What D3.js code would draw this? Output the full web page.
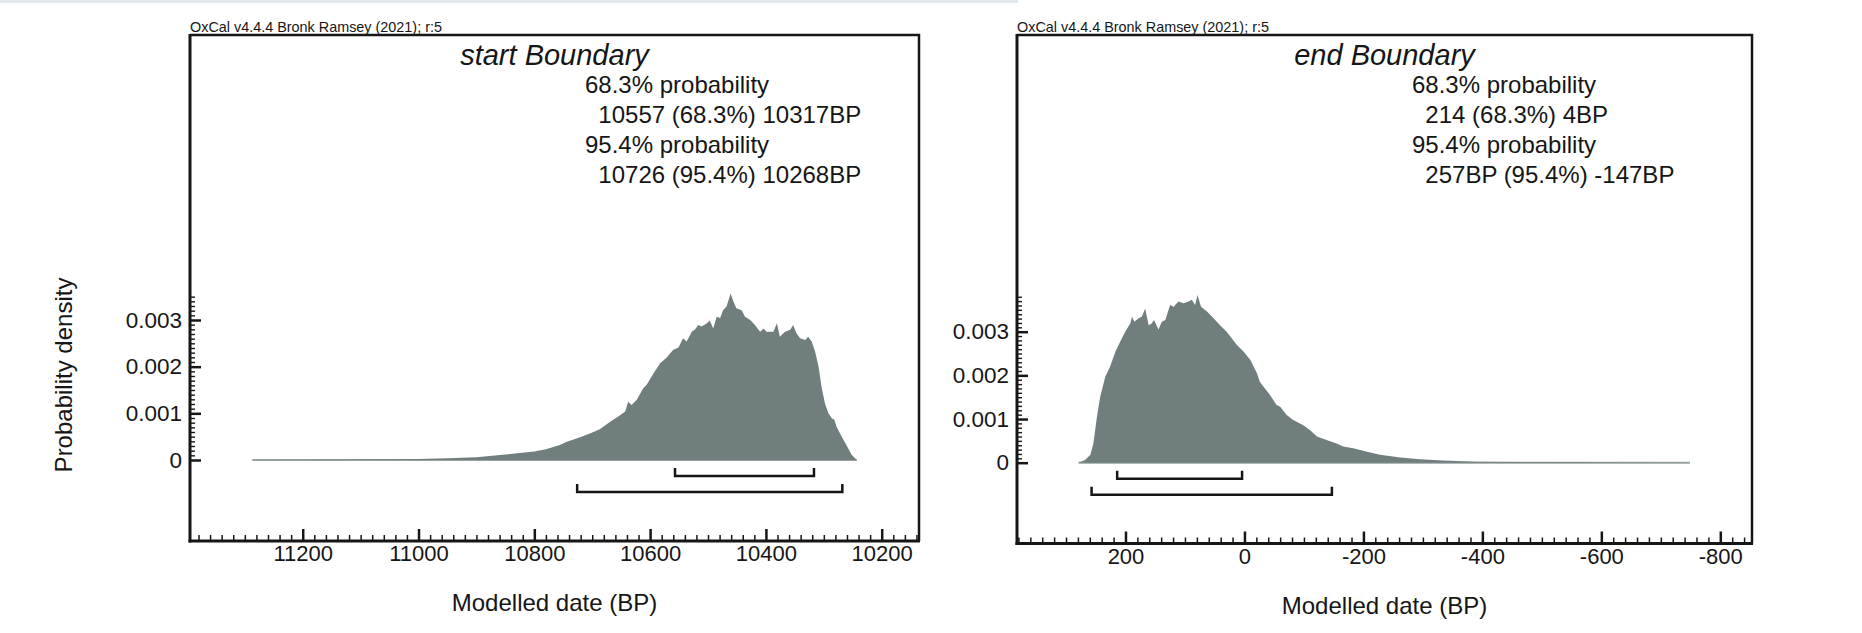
<!DOCTYPE html>
<html><head><meta charset="utf-8">
<script src="https://cdn.jsdelivr.net/npm/d3@7"></script>
<style>
body{margin:0;background:#fff}
svg{display:block}
text{font-family:"Liberation Sans",Arial,Helvetica,sans-serif;fill:#161616}
</style>
</head><body>
<svg id="c" width="1862" height="633"></svg>
<script>
// ---------------- data ----------------
const credit = "OxCal v4.4.4 Bronk Ramsey (2021); r:5";
const titles = ["start Boundary", "end Boundary"];
const startTexts = ["68.3% probability", "  10557 (68.3%) 10317BP", "95.4% probability", "  10726 (95.4%) 10268BP"];
const endTexts = ["68.3% probability", "  214 (68.3%) 4BP", "95.4% probability", "  257BP (95.4%) -147BP"];
const yTickValues = [0, 0.001, 0.002, 0.003];
const yTickLabels = ["0", "0.001", "0.002", "0.003"];
const startXTicks = [11200, 11000, 10800, 10600, 10400, 10200];
const endXTicks = [200, 0, -200, -400, -600, -800];
const startRange68 = [10557, 10317];
const startRange95 = [10726, 10268];
const endRange68 = [214, 4];
const endRange95 = [257, -147];
const yTitle = "Probability density";
const xTitle = "Modelled date (BP)";

const startYears = [11287,11200,11100,11000,10950,10900,10850,10800,10780,10756,10744,10727,10704,10687,10669,10652,10643,10638,10632,10623,10612,10606,10594,10583,10571,10560,10551,10543,10537,10528,10522,10517,10511,10502,10497,10491,10485,10479,10474,10468,10461,10456,10451,10442,10436,10427,10419,10410,10404,10399,10387,10381,10376,10367,10358,10353,10347,10341,10332,10327,10321,10315,10309,10304,10298,10292,10286,10282,10278,10269,10261,10252,10243];
const startDensity = [0,0.000005,0.00001,0.00002,0.00004,0.00006,0.00012,0.00018,0.00023,0.00032,0.00039,0.00046,0.00057,0.00066,0.00082,0.00096,0.00104,0.00125,0.00118,0.00129,0.00154,0.00161,0.00186,0.00207,0.0022,0.00236,0.00241,0.00261,0.00254,0.00275,0.0028,0.00289,0.00286,0.00293,0.00299,0.00282,0.00307,0.00304,0.00321,0.00329,0.00357,0.00339,0.00325,0.00321,0.00307,0.003,0.00289,0.00275,0.00282,0.00275,0.00275,0.00293,0.00264,0.00275,0.00279,0.00289,0.00271,0.00261,0.00257,0.00264,0.00254,0.00232,0.002,0.00157,0.00121,0.001,0.00089,0.00087,0.00071,0.0005,0.00032,0.00011,0];

const endYears = [279,268,259,254,248,242.5,234,226,217,209,200.5,192,189,185,178,172.5,167,161,156,152,144.5,139,133,125,119,111,102.5,94,88.5,83,79,73,63,52,41,30,13,2,-10,-21,-26,-43,-54,-60,-71,-82,-99,-110,-122,-138,-155,-166,-183,-206,-228,-262,-295,-334,-390,-475,-587,-749];
const endDensity = [0,0.00006,0.00018,0.00044,0.00105,0.00151,0.00197,0.0022,0.00254,0.00277,0.003,0.00319,0.00334,0.00323,0.00331,0.00334,0.00353,0.00315,0.00319,0.00327,0.00305,0.00323,0.00327,0.00361,0.00357,0.00369,0.00365,0.00369,0.00373,0.00361,0.00384,0.00357,0.00346,0.00331,0.00315,0.003,0.0027,0.00255,0.00235,0.00205,0.00185,0.00155,0.00132,0.00128,0.00109,0.00098,0.00086,0.00075,0.0006,0.00052,0.00044,0.00037,0.00033,0.00025,0.00018,0.00012,0.00008,0.00005,0.00002,0.000015,0.00001,0];

// ---------------- layout ----------------
const svg = d3.select("#c");
const FILL = "#707f7e";
const INK = "#161616";

svg.append("rect").attr("x", 0).attr("y", 0).attr("width", 1018).attr("height", 3).attr("fill", "#e3e8ee");

const panels = [
  {left: 190, right: 919, top: 35, axisY: 541, base: 460, perMil: 46.67, domain: [11394.7, 10135.6],
   years: startYears, dens: startDensity, r68: startRange68, r95: startRange95, ticks: startXTicks,
   texts: startTexts, title: titles[0], yTitle: true},
  {left: 1017, right: 1752, top: 35, axisY: 543.5, base: 462.7, perMil: 43.67, domain: [382.4, -853.3],
   years: endYears, dens: endDensity, r68: endRange68, r95: endRange95, ticks: endXTicks,
   texts: endTexts, title: titles[1], yTitle: false}
];

panels.forEach(p => {
  const g = svg.append("g");
  const x = d3.scaleLinear().domain(p.domain).range([p.left, p.right]);
  const y = d3.scaleLinear().domain([0, 0.001]).range([p.base, p.base - p.perMil]);
  const data = p.years.map((yr, i) => ({yr, d: p.dens[i]}));
  const maxD = d3.max(p.dens);

  // credit line
  g.append("text").attr("x", p.left).attr("y", p.top - 3).attr("font-size", 14.4).text(credit);

  // density area
  g.append("line").attr("x1", x(p.years[0])).attr("x2", x(p.years[p.years.length - 1]))
    .attr("y1", y(0)).attr("y2", y(0)).attr("stroke", "#97a2a1").attr("stroke-width", 2);
  const area = d3.area().x(d => x(d.yr)).y0(y(0)).y1(d => y(d.d)).curve(d3.curveLinear);
  g.append("path").datum(data).attr("d", area).attr("fill", FILL);

  // range brackets
  [[p.r68, 16], [p.r95, 32]].forEach(([r, off]) => {
    const by = p.base + off;
    g.append("path")
      .attr("d", `M${x(r[0])},${by - 8}V${by}H${x(r[1])}V${by - 8}`)
      .attr("fill", "none").attr("stroke", INK).attr("stroke-width", 2.5);
  });

  // x axis: minor ticks
  const lo = Math.min(...p.domain), hi = Math.max(...p.domain);
  const minor = d3.range(Math.ceil(lo / 20) * 20, hi, 20).filter(v => !p.ticks.includes(v));
  const gMinor = g.append("g").attr("transform", `translate(0,${p.axisY})`)
    .call(d3.axisBottom(x).tickValues(minor).tickSize(-6).tickFormat(""));
  gMinor.select(".domain").remove();
  gMinor.selectAll(".tick line").attr("stroke", INK).attr("stroke-width", 1.5);

  const gMajor = g.append("g").attr("transform", `translate(0,${p.axisY})`)
    .call(d3.axisBottom(x).tickValues(p.ticks).tickSize(-12).tickPadding(4.5).tickFormat(d3.format("d")));
  gMajor.select(".domain").remove();
  gMajor.selectAll(".tick line").attr("stroke", INK).attr("stroke-width", 2.5);
  gMajor.selectAll(".tick text").attr("font-size", 22).attr("font-family", "Liberation Sans, Arial, sans-serif")
    .attr("fill", INK).text(d => String(d).replace("\u2212", "-"));

  // y axis: minor ticks
  const yMinor = d3.range(0, Math.floor(maxD / 0.0001 + 1e-6) + 1).map(i => i * 0.0001)
    .filter(v => Math.abs(v * 1000 - Math.round(v * 1000)) > 1e-6);
  const gyMinor = g.append("g").attr("transform", `translate(${p.left},0)`)
    .call(d3.axisLeft(y).tickValues(yMinor).tickSize(-5).tickFormat(""));
  gyMinor.select(".domain").remove();
  gyMinor.selectAll(".tick line").attr("stroke", INK).attr("stroke-width", 1.4);

  const gy = g.append("g").attr("transform", `translate(${p.left},0)`)
    .call(d3.axisLeft(y).tickValues(yTickValues).tickSize(-11).tickPadding(8)
      .tickFormat((d, i) => yTickLabels[i]));
  gy.select(".domain").remove();
  gy.selectAll(".tick line").attr("stroke", INK).attr("stroke-width", 2.5);
  gy.selectAll(".tick text").attr("font-size", 22.5).attr("font-family", "Liberation Sans, Arial, sans-serif")
    .attr("fill", INK);

  // frame
  g.append("path")
    .attr("d", `M${p.left},${p.top}H${p.right}V${p.axisY}`)
    .attr("fill", "none").attr("stroke", INK).attr("stroke-width", 2.5);
  g.append("line").attr("x1", p.left).attr("x2", p.left).attr("y1", p.top - 1).attr("y2", p.axisY + 1.5)
    .attr("stroke", INK).attr("stroke-width", 3);
  g.append("line").attr("x1", p.left - 1.5).attr("x2", p.right + 1).attr("y1", p.axisY).attr("y2", p.axisY)
    .attr("stroke", INK).attr("stroke-width", 3);

  // title and probability text
  const cx = (p.left + p.right) / 2;
  g.append("text").attr("x", cx).attr("y", 65).attr("text-anchor", "middle")
    .attr("font-size", 29).attr("font-style", "italic").text(p.title);
  const tx = p.left + 395;
  const baselines = [93, 123, 153, 183];
  p.texts.forEach((t, i) => {
    g.append("text").attr("x", tx).attr("y", baselines[i]).attr("font-size", 24)
      .attr("xml:space", "preserve").style("white-space", "pre").text(t);
  });

  // axis titles
  g.append("text").attr("x", cx).attr("y", p.axisY + 70).attr("text-anchor", "middle")
    .attr("font-size", 24).text(xTitle);
  if (p.yTitle) {
    g.append("text").attr("transform", `translate(72,375) rotate(-90)`).attr("text-anchor", "middle")
      .attr("font-size", 24).text(yTitle);
  }
});
</script>
</body></html>
